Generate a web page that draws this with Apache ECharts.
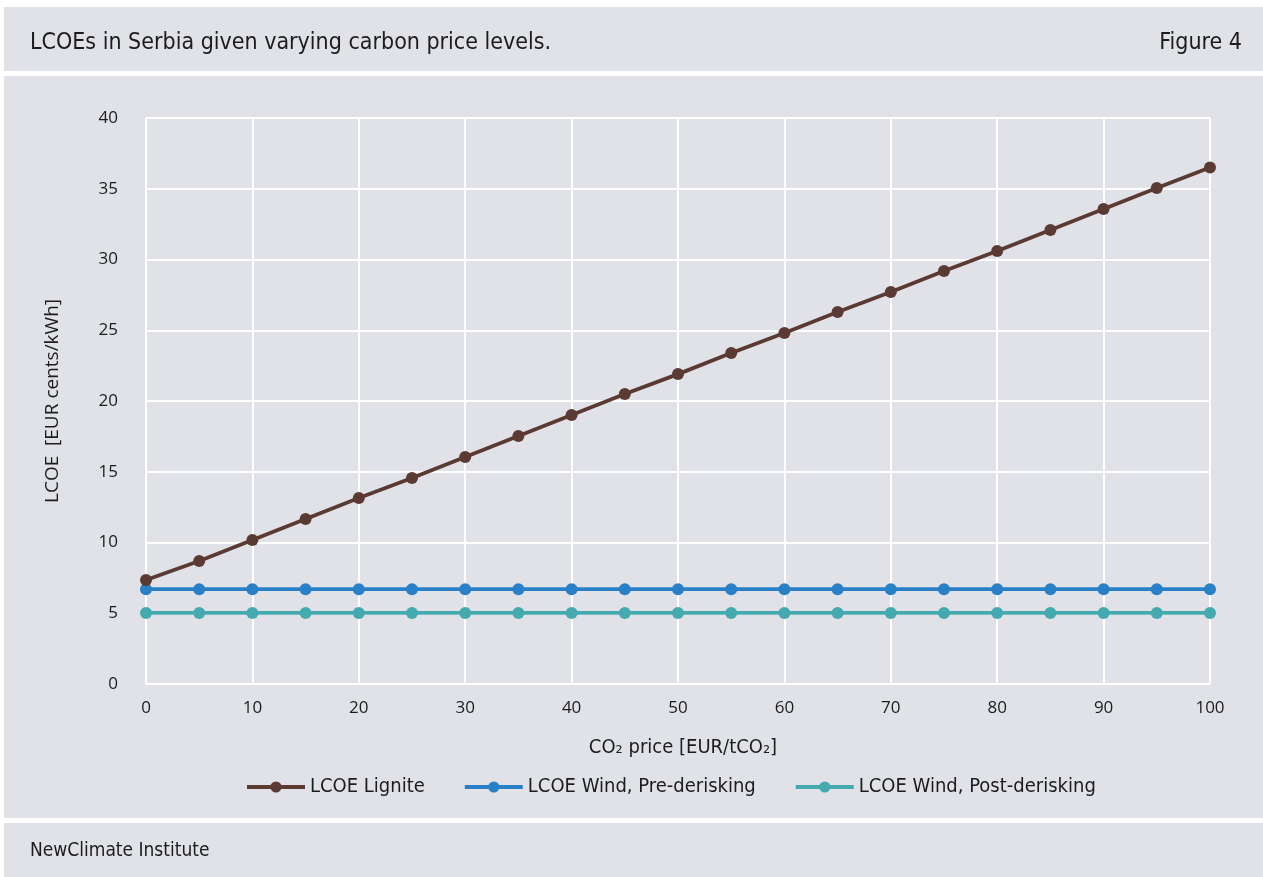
<!DOCTYPE html>
<html>
<head>
<meta charset="utf-8">
<script src="https://cdn.jsdelivr.net/npm/echarts@6/dist/echarts.min.js"></script>
<style>
  html, body { margin: 0; padding: 0; background: #ffffff; }
  #chart { width: 1263px; height: 877px; }
</style>
</head>
<body>
<div id="chart"></div>
<script>
// Carbon price levels (EUR/tCO2)
const carbonPrices = [0, 5, 10, 15, 20, 25, 30, 35, 40, 45, 50, 55, 60, 65, 70, 75, 80, 85, 90, 95, 100];
// LCOE values (EUR cents/kWh)
const lcoeLignite = [7.35, 8.69, 10.18, 11.66, 13.14, 14.56, 16.04, 17.53, 19.01, 20.49, 21.9, 23.39, 24.81, 26.29, 27.7, 29.19, 30.6, 32.08, 33.57, 35.05, 36.5];
const lcoeWindPre = [6.7, 6.7, 6.7, 6.7, 6.7, 6.7, 6.7, 6.7, 6.7, 6.7, 6.7, 6.7, 6.7, 6.7, 6.7, 6.7, 6.7, 6.7, 6.7, 6.7, 6.7];
const lcoeWindPost = [5.02, 5.02, 5.02, 5.02, 5.02, 5.02, 5.02, 5.02, 5.02, 5.02, 5.02, 5.02, 5.02, 5.02, 5.02, 5.02, 5.02, 5.02, 5.02, 5.02, 5.02];
const seriesNames = ['LCOE Lignite', 'LCOE Wind, Pre-derisking', 'LCOE Wind, Post-derisking'];
const seriesColors = ['#5b3a33', '#2a80c6', '#45a9b0'];

const FONT = "'Liberation Sans Narrow', 'DejaVu Sans Condensed', 'Open Sans', sans-serif";
const PANEL = '#e1e2e7';
const TEXT = '#1c1c1c';

const chart = echarts.init(document.getElementById('chart'), null, { renderer: 'canvas' });

function toPairs(vals) {
  return carbonPrices.map((x, i) => [x, vals[i]]);
}

const seriesData = [lcoeLignite, lcoeWindPre, lcoeWindPost];

chart.setOption({
  backgroundColor: '#ffffff',
  animation: false,
  textStyle: { fontFamily: FONT, color: TEXT },
  graphic: [
    { type: 'rect', z: -10, shape: { x: 4, y: 7, width: 1259, height: 64 }, style: { fill: PANEL } },
    { type: 'rect', z: -10, shape: { x: 4, y: 76, width: 1259, height: 742 }, style: { fill: PANEL } },
    { type: 'rect', z: -10, shape: { x: 4, y: 823, width: 1259, height: 54 }, style: { fill: PANEL } },
    { type: 'text', left: 30, top: 32, style: { text: 'LCOEs in Serbia given varying carbon price levels.', font: '23px ' + FONT, fill: TEXT } },
    { type: 'text', right: 21, top: 32, style: { text: 'Figure 4', font: '23px ' + FONT, fill: TEXT } },
    { type: 'text', left: 30, top: 842, style: { text: 'NewClimate Institute', font: '19px ' + FONT, fill: TEXT } }
  ],
  grid: { left: 146, right: 53, top: 118, bottom: 193, containLabel: false },
  legend: {
    bottom: 75,
    left: 240,
    itemWidth: 58,
    itemHeight: 14,
    itemGap: 38,
    lineStyle: { width: 4 },
    textStyle: { fontSize: 20, fontFamily: FONT, color: TEXT, padding: [0, 0, 0, 0] },
    data: seriesNames
  },
  xAxis: {
    type: 'value',
    min: 0, max: 100, interval: 10,
    name: 'CO₂ price [EUR/tCO₂]',
    nameLocation: 'middle',
    nameGap: 54,
    nameTextStyle: { fontSize: 20, fontFamily: FONT, color: TEXT, padding: [0, 0, 0, 10] },
    axisLine: { show: false },
    axisTick: { show: false },
    axisLabel: { fontSize: 17, color: TEXT, margin: 16, fontFamily: "'Open Sans', sans-serif" },
    splitLine: { show: true, lineStyle: { color: '#ffffff', width: 2 } }
  },
  yAxis: {
    type: 'value',
    min: 0, max: 40, interval: 5,
    name: 'LCOE  [EUR cents/kWh]',
    nameLocation: 'middle',
    nameGap: 84,
    nameRotate: 90,
    nameTextStyle: { fontSize: 19, color: TEXT, fontFamily: "'Open Sans', sans-serif" },
    axisLine: { show: false },
    axisTick: { show: false },
    axisLabel: { fontSize: 17, color: TEXT, margin: 28, fontFamily: "'Open Sans', sans-serif" },
    splitLine: { show: true, lineStyle: { color: '#ffffff', width: 2 } }
  },
  series: seriesData.map((vals, i) => ({
    name: seriesNames[i],
    type: 'line',
    data: toPairs(vals),
    symbol: 'circle',
    symbolSize: 12,
    lineStyle: { width: 3.8, color: seriesColors[i] },
    itemStyle: { color: seriesColors[i] },
    z: 10 - i
  }))
});
</script>
</body>
</html>
